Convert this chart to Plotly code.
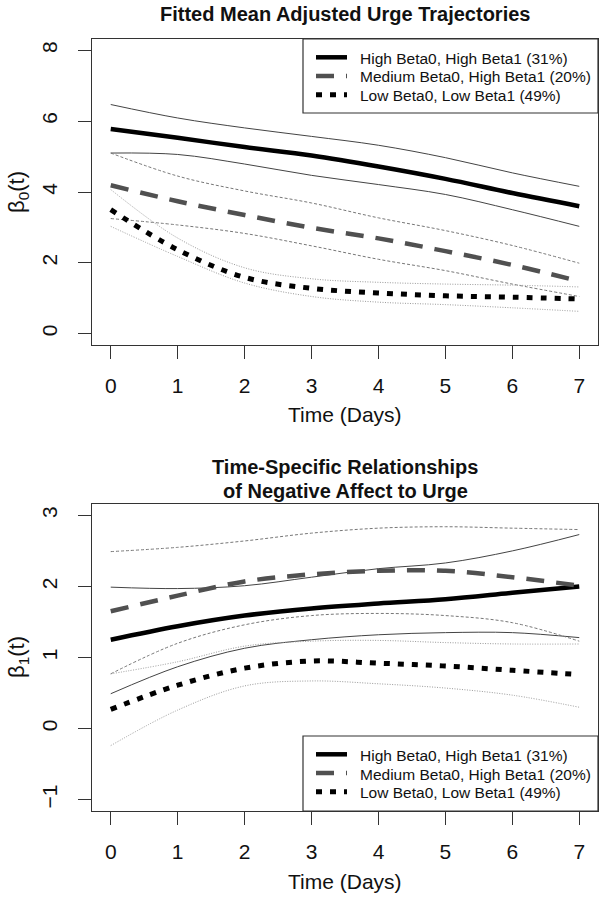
import plotly.graph_objects as go

# ---------------- data ----------------
days = [0, 1, 2, 3, 4, 5, 6, 7]
x_ticks = [0, 1, 2, 3, 4, 5, 6, 7]
y0_ticks = [0, 2, 4, 6, 8]
y1_ticks = [-1, 0, 1, 2, 3]

group_names = ["High Beta0, High Beta1 (31%)",
               "Medium Beta0, High Beta1 (20%)",
               "Low Beta0, Low Beta1 (49%)"]

# Panel 1: beta0(t)
b0_high = [5.78, 5.53, 5.27, 5.03, 4.72, 4.37, 3.97, 3.60]
b0_high_up = [6.47, 6.09, 5.81, 5.57, 5.32, 4.97, 4.54, 4.16]
b0_high_lo = [5.10, 5.06, 4.79, 4.47, 4.21, 3.93, 3.50, 3.03]
b0_med = [4.19, 3.74, 3.35, 2.99, 2.69, 2.33, 1.94, 1.48]
b0_med_up = [5.10, 4.45, 4.03, 3.69, 3.27, 2.91, 2.49, 1.99]
b0_med_lo = [3.25, 3.07, 2.83, 2.48, 2.10, 1.78, 1.40, 1.05]
b0_low = [3.50, 2.37, 1.59, 1.28, 1.15, 1.07, 1.03, 0.98]
b0_low_up = [4.07, 2.70, 1.86, 1.55, 1.45, 1.40, 1.37, 1.32]
b0_low_lo = [3.03, 2.18, 1.43, 1.05, 0.89, 0.82, 0.73, 0.63]

# Panel 2: beta1(t)
b1_high = [1.25, 1.44, 1.59, 1.69, 1.76, 1.82, 1.91, 2.00]
b1_high_up = [1.99, 1.97, 2.01, 2.13, 2.25, 2.33, 2.50, 2.73]
b1_high_lo = [0.49, 0.87, 1.13, 1.25, 1.32, 1.35, 1.35, 1.28]
b1_med = [1.65, 1.87, 2.07, 2.17, 2.22, 2.22, 2.13, 2.01]
b1_med_up = [2.49, 2.55, 2.64, 2.75, 2.82, 2.84, 2.82, 2.80]
b1_med_lo = [0.77, 1.20, 1.46, 1.59, 1.62, 1.59, 1.49, 1.23]
b1_low = [0.27, 0.61, 0.85, 0.95, 0.92, 0.88, 0.82, 0.76]
b1_low_up = [0.77, 0.94, 1.16, 1.23, 1.24, 1.21, 1.19, 1.19]
b1_low_lo = [-0.24, 0.26, 0.60, 0.67, 0.63, 0.57, 0.47, 0.30]

# ---------------- layout geometry (pixels) ----------------
W, H = 602, 900
ML, MR, MT, MB = 92, 4, 39, 89
PW, PH = W - ML - MR, H - MT - MB


def px_x(x):
    return (x - ML) / PW


def px_y(y):
    return (H - MB - y) / PH


FONT = "Liberation Sans, Arial, Helvetica, sans-serif"
TXT = "#111111"
main_styles = [dict(color="#000000", width=4.5, dash="solid"),
               dict(color="#505050", width=4.5, dash="18px,12px"),
               dict(color="#000000", width=5, dash="6px,8px")]
ci_styles = [dict(color="#444444", width=1, dash="solid"),
             dict(color="#777777", width=1, dash="3px,2px"),
             dict(color="#9a9a9a", width=1, dash="1px,1.5px")]

fig = go.Figure()

panels = [
    ("x", "y", [(b0_high, b0_high_up, b0_high_lo),
                (b0_med, b0_med_up, b0_med_lo),
                (b0_low, b0_low_up, b0_low_lo)]),
    ("x2", "y2", [(b1_high, b1_high_up, b1_high_lo),
                  (b1_med, b1_med_up, b1_med_lo),
                  (b1_low, b1_low_up, b1_low_lo)]),
]

for xa, ya, groups in panels:
    for gi, (m, up, lo) in enumerate(groups):
        for band in (up, lo):
            fig.add_trace(go.Scatter(x=days, y=band, mode="lines", xaxis=xa, yaxis=ya,
                                     line=dict(shape="spline", smoothing=1.0, **ci_styles[gi]),
                                     showlegend=False, hoverinfo="skip"))
    for gi, (m, up, lo) in enumerate(groups):
        fig.add_trace(go.Scatter(x=days, y=m, mode="lines", xaxis=xa, yaxis=ya,
                                 name=group_names[gi], showlegend=False,
                                 line=dict(shape="spline", smoothing=1.0, **main_styles[gi])))

ax_common = dict(showline=True, mirror=True, linecolor="#333333", linewidth=1.2,
                 ticks="outside", ticklen=13, tickwidth=1.2, tickcolor="#333333",
                 showgrid=False, zeroline=False, automargin=False,
                 tickfont=dict(family=FONT, size=21, color=TXT))

fig.update_layout(
    width=W, height=H,
    margin=dict(l=ML, r=MR, t=MT, b=MB, autoexpand=False),
    paper_bgcolor="white", plot_bgcolor="white",
    font=dict(family=FONT, color=TXT),
    showlegend=False,
    xaxis=dict(domain=[0, 1], anchor="y", range=[-0.28, 7.28], tickvals=x_ticks,
               ticklabelstandoff=9, **ax_common),
    yaxis=dict(domain=[px_y(345), 1], anchor="x", range=[-0.32, 8.32], tickvals=y0_ticks,
               tickangle=-90, ticklabelstandoff=13, **ax_common),
    xaxis2=dict(domain=[0, 1], anchor="y2", range=[-0.28, 7.28], tickvals=x_ticks,
                ticklabelstandoff=9, **ax_common),
    yaxis2=dict(domain=[0, px_y(504)], anchor="x2", range=[-1.16, 3.16], tickvals=y1_ticks,
                tickangle=-90, ticklabelstandoff=13, **ax_common),
)

# titles / axis labels
ann = [
    ("<b>Fitted Mean Adjusted Urge Trajectories</b>", 14, 20),
    ("Time (Days)", 415, 21),
    ("<b>Time-Specific Relationships</b>", 467, 20),
    ("<b>of Negative Affect to Urge</b>", 491, 20),
    ("Time (Days)", 882, 21),
]
for text, ypx, size in ann:
    fig.add_annotation(text=text, x=0.5, y=px_y(ypx), xref="paper", yref="paper",
                       xanchor="center", yanchor="middle", showarrow=False,
                       font=dict(family=FONT, size=size, color=TXT))

for lbl, ypx in [("β<sub>0</sub>(t)", 192), ("β<sub>1</sub>(t)", 657)]:
    fig.add_annotation(text=lbl, x=px_x(18), y=px_y(ypx), xref="paper", yref="paper",
                       xanchor="center", yanchor="middle", showarrow=False, textangle=-90,
                       font=dict(family=FONT, size=22, color=TXT))

# legends (R-style boxed legends), one per panel
for box_top, box_bot in [(39, 113), (736, 811)]:
    fig.add_shape(type="rect", xref="paper", yref="paper",
                  x0=px_x(303), x1=px_x(598), y0=px_y(box_bot), y1=px_y(box_top),
                  line=dict(color="#333333", width=1.2), fillcolor="white", layer="above")
    for gi, off in enumerate([18.3, 37, 55.7]):
        yrow = box_top + off
        st = main_styles[gi]
        fig.add_shape(type="line", xref="paper", yref="paper",
                      x0=px_x(316), x1=px_x(347), y0=px_y(yrow), y1=px_y(yrow),
                      line=dict(color=st["color"], width=st["width"], dash=st["dash"]),
                      layer="above")
        fig.add_annotation(text=group_names[gi], x=px_x(358), y=px_y(yrow + 1),
                           xref="paper", yref="paper", xanchor="left", yanchor="middle",
                           showarrow=False, font=dict(family=FONT, size=15.5, color=TXT))

fig.write_html("out.html",
               config={"displayModeBar": False},
               post_script="document.body.style.margin='0px';document.body.style.padding='0px';")
